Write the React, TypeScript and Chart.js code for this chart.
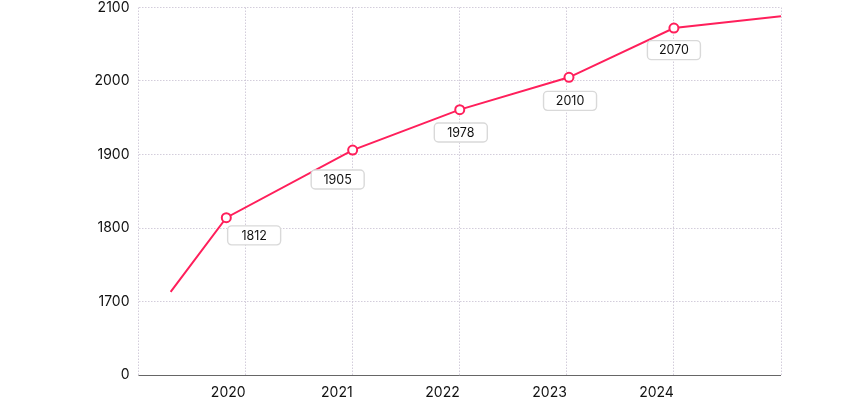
import React, { useEffect, useRef } from "react";
import { Chart, registerables } from "chart.js";

Chart.register(...registerables);

// Line data (x in years, y values)
const pointYears = [2019.3, 2019.82, 2021.0, 2022.0, 2023.02, 2024.0, 2025.0];
const pointValues = [1713, 1814, 1906, 1961, 2005, 2072, 2088];
const pointMarkers = [0, 1, 1, 1, 1, 1, 0];

// Value labels (text and anchor in data coordinates)
const labelTexts = ["1812", "1905", "1978", "2010", "2070"];
const labelYears = [2020.08, 2020.86, 2022.01, 2023.03, 2024.0];
const labelLevels = [1790, 1866, 1930, 1973, 2042];

// Axes
const xTickYears = [2020, 2021, 2022, 2023, 2024];
const xTickLabels = ["2020", "2021", "2022", "2023", "2024"];
const yTickValues = [1600, 1700, 1800, 1900, 2000, 2100];
const yTickLabels = ["0", "1700", "1800", "1900", "2000", "2100"];

const LINE_COLOR = "#ff1f5b";
const GRID_COLOR = "rgba(200,192,210,0.8)";
const FONT = "Inter, 'Noto Sans', sans-serif";

const valueLabelPlugin = {
  id: "valueLabels",
  afterDatasetsDraw(chart: any) {
    const { ctx, scales } = chart;
    ctx.save();
    ctx.font = `12.5px ${FONT}`;
    ctx.textAlign = "center";
    ctx.textBaseline = "middle";
    for (let i = 0; i < labelTexts.length; i++) {
      const cx = scales.x.getPixelForValue(labelYears[i]);
      const cy = scales.y.getPixelForValue(labelLevels[i]);
      const w = 53;
      const h = 19;
      ctx.beginPath();
      ctx.roundRect(cx - w / 2, cy - h / 2, w, h, 4);
      ctx.fillStyle = "#ffffff";
      ctx.fill();
      ctx.lineWidth = 1.4;
      ctx.strokeStyle = "#d9d9d9";
      ctx.stroke();
      ctx.fillStyle = "#111111";
      ctx.fillText(labelTexts[i], cx, cy + 0.5);
    }
    ctx.restore();
  },
};

// solid bottom axis line over the dotted grid
const baseLinePlugin = {
  id: "baseLine",
  beforeDatasetsDraw(chart: any) {
    const { ctx, chartArea } = chart;
    ctx.save();
    ctx.setLineDash([]);
    ctx.strokeStyle = "#666666";
    ctx.lineWidth = 1;
    ctx.beginPath();
    const y = Math.round(chartArea.bottom) + 0.5;
    ctx.moveTo(chartArea.left, y);
    ctx.lineTo(chartArea.right, y);
    ctx.stroke();
    ctx.restore();
  },
};

export default function App() {
  const canvasRef = useRef<HTMLCanvasElement | null>(null);

  useEffect(() => {
    if (!canvasRef.current) return;
    const chart = new Chart(canvasRef.current, {
      type: "line",
      data: {
        datasets: [
          {
            data: pointYears.map((x, i) => ({ x, y: pointValues[i] })),
            borderColor: LINE_COLOR,
            borderWidth: 2,
            tension: 0,
            pointRadius: pointMarkers.map((m) => (m ? 4.5 : 0)),
            pointHoverRadius: pointMarkers.map((m) => (m ? 4.5 : 0)),
            pointBackgroundColor: "#ffffff",
            pointBorderColor: LINE_COLOR,
            pointBorderWidth: 2,
            fill: false,
          },
        ],
      },
      options: {
        animation: false,
        responsive: true,
        maintainAspectRatio: false,
        layout: { padding: { left: 0, right: 69, top: 7.5, bottom: 0 } },
        plugins: {
          legend: { display: false },
          tooltip: { enabled: false },
        },
        scales: {
          x: {
            type: "linear",
            min: 2019,
            max: 2025,
            afterBuildTicks: (scale: any) => {
              const vals = [2019, ...xTickYears, 2025];
              scale.ticks = vals.map((v) => ({ value: v }));
            },
            afterFit: (scale: any) => {
              scale.height = 25;
              scale.paddingLeft = 0;
              scale.paddingRight = 0;
            },
            ticks: {
              align: "end",
              padding: 9,
              color: "#111111",
              font: { family: FONT, size: 14 },
              maxRotation: 0,
              autoSkip: false,
              callback: (v: any) => {
                const idx = xTickYears.indexOf(Number(v));
                return idx >= 0 ? xTickLabels[idx] : "";
              },
            },
            grid: {
              color: GRID_COLOR,
              lineWidth: 1,
              drawTicks: false,
            },
            border: { display: false, dash: [1.5, 1.5] },
          },
          y: {
            type: "linear",
            min: 1600,
            max: 2100,
            afterBuildTicks: (scale: any) => {
              scale.ticks = yTickValues.map((v) => ({ value: v }));
            },
            afterFit: (scale: any) => {
              scale.width = 138.5;
              scale.paddingTop = 0;
              scale.paddingBottom = 0;
            },
            ticks: {
              padding: 9,
              color: "#111111",
              font: { family: FONT, size: 14, lineHeight: 1 },
              callback: (v: any) => {
                const idx = yTickValues.indexOf(Number(v));
                return idx >= 0 ? yTickLabels[idx] : "";
              },
            },
            grid: {
              color: GRID_COLOR,
              lineWidth: 1,
              drawTicks: false,
            },
            border: { display: false, dash: [1.5, 1.5] },
          },
        },
      },
      plugins: [baseLinePlugin, valueLabelPlugin],
    } as any);

    return () => chart.destroy();
  }, []);

  return (
    <div
      style={{
        position: "absolute",
        left: 0,
        top: 0,
        width: 850,
        height: 400,
        background: "#ffffff",
      }}
    >
      <canvas ref={canvasRef} />
    </div>
  );
}
